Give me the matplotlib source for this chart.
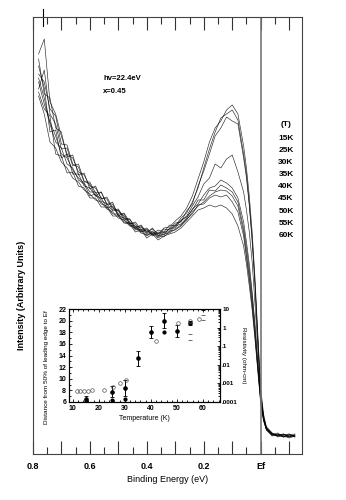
import numpy as np
import matplotlib
matplotlib.use("Agg")
import matplotlib.pyplot as plt
from matplotlib.ticker import MultipleLocator, FixedLocator, FixedFormatter

plt.rcParams['font.family'] = ['Liberation Sans', 'DejaVu Sans']
plt.rcParams['font.weight'] = 'bold'

# binding energy grid (eV)
energy = [0.78, 0.76, 0.74, 0.72, 0.70, 0.68, 0.66, 0.64, 0.62, 0.60,
          0.58, 0.56, 0.54, 0.52, 0.50, 0.48, 0.46, 0.44, 0.42, 0.40,
          0.38, 0.36, 0.34, 0.32, 0.30, 0.28, 0.26, 0.24, 0.22, 0.20,
          0.18, 0.16, 0.14, 0.12, 0.10, 0.08, 0.06, 0.05, 0.04, 0.03,
          0.02, 0.01, 0.00, -0.01, -0.02, -0.04, -0.06, -0.08, -0.10, -0.12]

temps = ["15K", "25K", "30K", "35K", "40K", "45K", "50K", "55K", "60K"]

i15 = [400, 415, 352, 340, 318, 300, 296, 282, 279, 268,
       266, 256, 255, 244, 245, 236, 235, 227, 228, 222,
       225, 220, 226, 227, 233, 238, 246, 258, 275, 292,
       312, 326, 333, 344, 349, 340, 308, 286, 258, 222,
       176, 120, 66, 40, 27, 21, 18, 20, 17, 19]
i25 = [380, 372, 345, 338, 310, 309, 290, 287, 272, 272,
       261, 262, 250, 250, 240, 240, 230, 232, 224, 226,
       220, 224, 222, 229, 228, 236, 241, 252, 266, 286,
       305, 322, 336, 340, 344, 334, 300, 280, 250, 216,
       170, 116, 62, 38, 25, 20, 21, 17, 19, 18]
i30 = [395, 360, 356, 326, 322, 297, 299, 279, 281, 265,
       268, 255, 257, 246, 243, 238, 231, 230, 222, 225,
       219, 222, 221, 225, 231, 232, 243, 250, 268, 283,
       300, 318, 326, 337, 333, 330, 296, 276, 248, 212,
       168, 112, 60, 36, 26, 19, 20, 18, 16, 18]
i35 = [365, 384, 340, 330, 305, 306, 288, 290, 273, 270,
       258, 262, 249, 252, 238, 241, 232, 226, 229, 221,
       226, 218, 225, 224, 229, 233, 238, 248, 257, 270,
       276, 290, 286, 295, 299, 282, 262, 244, 222, 192,
       150, 104, 58, 37, 27, 21, 17, 19, 20, 17]
i40 = [372, 350, 332, 318, 300, 296, 284, 276, 271, 262,
       262, 253, 250, 243, 244, 234, 235, 225, 227, 220,
       223, 217, 222, 222, 228, 230, 236, 245, 250, 259,
       266, 268, 274, 271, 266, 256, 232, 212, 190, 162,
       130, 92, 57, 36, 26, 20, 19, 17, 19, 20]
i45 = [388, 366, 322, 324, 296, 300, 280, 280, 268, 266,
       258, 256, 246, 248, 238, 236, 229, 228, 222, 224,
       218, 221, 219, 226, 226, 234, 237, 244, 254, 254,
       264, 263, 269, 266, 262, 252, 226, 206, 184, 158,
       126, 90, 55, 35, 25, 19, 18, 20, 17, 19]
i50 = [358, 340, 312, 306, 292, 286, 276, 272, 264, 260,
       254, 252, 245, 242, 236, 234, 228, 226, 221, 219,
       221, 216, 220, 221, 225, 229, 234, 242, 248, 252,
       258, 262, 264, 263, 258, 248, 222, 200, 178, 152,
       120, 86, 53, 34, 25, 20, 18, 18, 20, 17]
i55 = [376, 356, 330, 312, 306, 290, 286, 274, 270, 258,
       260, 250, 248, 240, 240, 232, 231, 224, 225, 218,
       222, 219, 217, 223, 224, 228, 235, 240, 249, 250,
       256, 259, 257, 259, 252, 242, 218, 196, 174, 148,
       118, 84, 52, 34, 24, 19, 20, 17, 18, 19]
i60 = [362, 345, 338, 300, 298, 281, 282, 268, 266, 256,
       256, 247, 247, 238, 238, 231, 230, 222, 224, 216,
       220, 214, 218, 220, 222, 226, 232, 238, 244, 246,
       249, 247, 249, 246, 240, 228, 208, 190, 168, 144,
       114, 82, 50, 33, 24, 18, 19, 20, 17, 18]
curves = [i15, i25, i30, i35, i40, i45, i50, i55, i60]

# inset: leading edge shift (left axis)
t_gap = [15, 25, 30, 35, 40, 45, 50, 55, 60]
gap = [6.5, 7.8, 8.4, 13.5, 18.0, 20.0, 18.2, 19.6, 22.1]
gap_err = [0.6, 1.0, 1.3, 1.3, 1.0, 1.3, 1.0, 0.4, 0.3]
t_gap2 = [15, 25, 30, 45]
gap2 = [6.2, 6.4, 6.6, 18.0]

# inset: resistivity (right axis, log)
t_rho = [11.5, 13, 14.5, 16, 17.5, 22, 25.5, 28, 30.5, 42, 50.5, 55, 58.5]
rho = [4e-4, 4e-4, 4e-4, 4e-4, 4.3e-4, 4.5e-4, 6.5e-4, 1e-3, 1.5e-3,
       0.19, 1.8, 2.3, 2.9]
t_rho2 = [55, 55, 60, 60]
rho2 = [0.46, 0.21, 4.8, 2.6]

fig = plt.figure(figsize=(3.46, 5.0), dpi=100)

ax = fig.add_axes([0.095, 0.092, 0.777, 0.874])
for c in curves:
    ax.plot(energy, c, color='k', lw=0.45, alpha=0.85)
ax.axvline(0.0, color='#777777', lw=1.2)
ax.set_xlim(0.8, -0.144)
ax.set_ylim(0, 437)
ax.set_yticks([])
ax.set_xticks([0.8, 0.7, 0.6, 0.5, 0.4, 0.3, 0.2, 0.1, 0.0, -0.1])
ax.set_xticklabels(["0.8", "", "0.6", "", "0.4", "", "0.2", "", "Ef", ""])
ax.xaxis.set_minor_locator(MultipleLocator(0.05))
ax.tick_params(axis='x', which='both', direction='in', top=True, bottom=True,
               labelsize=6.5, pad=6, color='#333333', width=0.8)
ax.tick_params(axis='x', which='major', length=9.5)
ax.tick_params(axis='x', which='minor', length=5)
for s in ax.spines.values():
    s.set_color('#444444')
    s.set_linewidth(0.8)
ax.axvline(0.765, ymin=0.98, ymax=1.018, color='k', lw=0.8, clip_on=False)
ax.set_xlabel("Binding Energy (eV)", fontsize=6.5, labelpad=3)
fig.text(22 / 346, 1 - 295 / 500, "Intensity (Arbitrary Units)", fontsize=6.5,
         rotation=90, ha='center', va='center')

fig.text(103 / 346, 1 - 78 / 500, "hv=22.4eV", fontsize=5.5, va='center')
fig.text(103 / 346, 1 - 92 / 500, "x=0.45", fontsize=5.5, va='center')
fig.text(286 / 346, 1 - 125 / 500, "(T)", fontsize=6, ha='center', va='center')
for k, t in enumerate(temps):
    fig.text(286 / 346, 1 - (138 + 12.2 * k) / 500, t, fontsize=6,
             ha='center', va='center')

# inset
axi = fig.add_axes([0.1994, 0.196, 0.4364, 0.186])
axi.errorbar(t_gap, gap, yerr=gap_err, fmt='o', ms=2.3, color='k',
             elinewidth=0.7, capsize=1.2, capthick=0.6)
axi.plot(t_gap2, gap2, 'o', ms=2.0, color='k')
axi.set_xlim(8.6, 66.5)
axi.set_ylim(6, 22)
axi.set_xticks([10, 20, 30, 40, 50, 60])
axi.set_yticks([6, 8, 10, 12, 14, 16, 18, 20, 22])
axi.xaxis.set_minor_locator(MultipleLocator(2))
axi.yaxis.set_minor_locator(MultipleLocator(1))
axi.tick_params(which='both', direction='in', top=True, labelsize=5, pad=2,
                width=0.6)
axi.tick_params(which='major', length=2.5)
axi.tick_params(which='minor', length=1.5)
axi.set_xlabel("Temperature (K)", fontsize=5, labelpad=2)
axi.set_ylabel("Distance from 50% of leading edge to Ef", fontsize=4.6)
axi.yaxis.set_label_coords(-0.135, 0.38)

axr = axi.twinx()
axr.plot(t_rho, rho, 'o', mfc='none', mec='#555555', ms=2.6, mew=0.5)
axr.plot(t_rho2, rho2, '_', color='#555555', ms=2.5, mew=0.6)
axr.set_yscale('log')
axr.set_ylim(1e-4, 10)
axr.yaxis.set_major_locator(FixedLocator([1e-4, 1e-3, 1e-2, 1e-1, 1, 10]))
axr.yaxis.set_major_formatter(FixedFormatter([".0001", ".001", ".01", ".1", "1", "10"]))
axr.tick_params(which='both', direction='in', labelsize=4.5, pad=1.5, width=0.6)
axr.tick_params(which='major', length=2.5)
axr.tick_params(which='minor', length=1.5)
axr.set_ylabel("Resistivity (ohm-cm)", fontsize=4.5, rotation=270, labelpad=6)

plt.savefig("out.png", dpi=100)
plt.close()
